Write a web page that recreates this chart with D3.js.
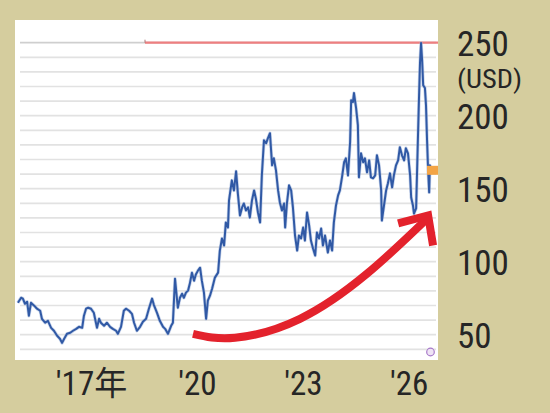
<!DOCTYPE html>
<html><head><meta charset="utf-8">
<script src="https://cdn.jsdelivr.net/npm/d3@7"></script>
<style>body{margin:0;background:#d5cd9e;overflow:hidden}</style>
</head><body>
<svg id="c" width="550" height="413"></svg>
<script>
// ---- data ----
const years = [2014.93,2015.02,2015.07,2015.13,2015.19,2015.24,2015.30,2015.39,2015.47,2015.56,2015.61,2015.70,2015.78,2015.87,2015.95,2016.04,2016.12,2016.18,2016.24,2016.32,2016.41,2016.49,2016.58,2016.66,2016.75,2016.80,2016.86,2016.92,2017.00,2017.08,2017.17,2017.23,2017.28,2017.37,2017.45,2017.54,2017.62,2017.71,2017.76,2017.85,2017.93,2017.99,2018.08,2018.16,2018.22,2018.30,2018.39,2018.47,2018.56,2018.64,2018.73,2018.78,2018.87,2018.95,2019.04,2019.10,2019.18,2019.27,2019.32,2019.38,2019.44,2019.46,2019.52,2019.58,2019.63,2019.69,2019.75,2019.80,2019.86,2019.92,2019.97,2020.03,2020.09,2020.14,2020.20,2020.26,2020.31,2020.37,2020.43,2020.51,2020.60,2020.65,2020.71,2020.77,2020.82,2020.88,2020.91,2020.97,2020.99,2021.05,2021.11,2021.16,2021.22,2021.28,2021.33,2021.39,2021.45,2021.50,2021.56,2021.62,2021.67,2021.73,2021.79,2021.84,2021.90,2021.96,2022.01,2022.07,2022.13,2022.18,2022.24,2022.30,2022.35,2022.41,2022.47,2022.50,2022.55,2022.61,2022.67,2022.72,2022.78,2022.84,2022.89,2022.95,2023.01,2023.06,2023.12,2023.18,2023.23,2023.29,2023.35,2023.40,2023.46,2023.52,2023.57,2023.63,2023.71,2023.77,2023.83,2023.88,2023.94,2024.00,2024.05,2024.11,2024.17,2024.22,2024.28,2024.34,2024.37,2024.42,2024.45,2024.51,2024.56,2024.59,2024.65,2024.71,2024.76,2024.82,2024.88,2024.93,2024.99,2025.05,2025.10,2025.16,2025.22,2025.24,2025.30,2025.36,2025.41,2025.47,2025.53,2025.58,2025.64,2025.70,2025.75,2025.81,2025.87,2025.92,2025.98,2026.04,2026.07,2026.12,2026.15,2026.21,2026.26,2026.29,2026.32,2026.35,2026.38,2026.41,2026.46,2026.49,2026.52,2026.55,2026.58,2026.60,2026.66];
const prices = [71.9,75.3,74.7,71.2,72.6,63.0,71.9,69.9,67.8,66.4,60.9,58.2,59.5,54.7,52.7,49.3,47.2,44.4,47.2,50.6,51.3,52.7,54.0,55.4,54.7,63.0,67.8,68.5,67.8,65.0,54.7,60.9,58.2,56.1,58.2,55.4,54.0,52.7,50.6,55.4,66.4,67.8,66.4,64.3,58.2,52.7,55.4,58.9,60.9,67.8,74.7,70.5,65.0,59.5,55.4,54.0,50.6,56.1,58.2,88.4,73.3,68.5,75.3,78.1,75.3,78.8,80.2,85.0,92.5,87.0,91.2,93.9,95.9,87.0,78.8,60.9,73.3,76.7,81.5,89.1,92.5,107.6,115.9,111.1,126.9,123.4,142.0,152.3,155.7,148.8,161.9,146.8,131.7,137.2,139.9,135.1,137.2,130.3,142.0,148.8,143.3,133.7,126.9,159.1,183.2,181.1,184.5,188.0,166.0,170.8,162.6,148.8,140.6,135.1,139.9,123.4,139.9,152.3,148.8,137.2,117.9,107.6,117.9,115.9,123.4,114.5,133.7,124.8,114.5,109.0,104.2,120.0,115.9,122.7,111.1,117.9,106.3,114.5,107.6,126.9,138.5,145.4,148.8,157.8,168.1,170.8,159.1,181.8,210.6,209.3,215.5,205.2,193.5,157.8,174.2,168.1,170.8,161.2,169.4,157.8,157.1,159.1,172.9,166.0,148.8,128.2,138.5,148.8,153.6,160.5,150.9,159.1,166.0,169.4,178.4,172.9,169.4,177.7,174.2,159.1,144.0,138.5,133.0,136.5,183.2,210.6,236.1,249.8,238.1,220.9,218.9,207.2,183.2,162.6,147.5,166.0,162.6];
const yTicks = [50,100,150,200,250];
const xTicks = [2017,2020,2023,2026];
const xTickLabels = ["'17年","'20","'23","'26"];
const gridValues = d3.range(40, 251, 10);
const highLevel = 250;
const highStartYear = 2018.53;
const arrowYears  = [2019.89,2021.08,2022.92,2024.82,2026.50];
const arrowPrices = [50.6,47.9,60.9,91.8,129.0];
const arrowHeadYears  = [2025.70,2026.55,2026.69];
const arrowHeadPrices = [126.2,131.7,111.1];

// ---- layout ----
const W = 550, H = 413;
const plot = {x0:15, x1:438, y0:20, y1:360};
const svg = d3.select('#c');
svg.append('rect').attr('width',W).attr('height',H).attr('fill','#d5cd9e');
svg.append('rect').attr('x',plot.x0).attr('y',plot.y0)
  .attr('width',plot.x1-plot.x0).attr('height',plot.y1-plot.y0).attr('fill','#ffffff');

const x = d3.scaleLinear().domain([2017,2026]).range([91,408.7]);
const y = d3.scaleLinear().domain([40,250]).range([349.3,42.7]);

const fontStack = "'Liberation Sans Narrow','Roboto Condensed','DejaVu Sans Condensed','Noto Sans CJK JP',sans-serif";

// grid
svg.append('g').selectAll('line').data(gridValues).join('line')
  .attr('x1',20).attr('x2',436)
  .attr('y1',d=>y(d)).attr('y2',d=>y(d))
  .attr('stroke',d=>d===highLevel?'#cfcfcf':'#e2e2e2')
  .attr('stroke-width',1.7);

// high line
svg.append('line')
  .attr('x1',x(highStartYear)).attr('x2',plot.x1)
  .attr('y1',y(highLevel)).attr('y2',y(highLevel))
  .attr('stroke','#ee7f80').attr('stroke-width',2.2);
svg.append('line')
  .attr('x1',x(highStartYear)).attr('x2',x(highStartYear))
  .attr('y1',y(highLevel)-3).attr('y2',y(highLevel))
  .attr('stroke','#aa7777').attr('stroke-width',1);

// price line
const pts = years.map((d,i)=>[d,prices[i]]);
const lineGen = d3.line().x(d=>x(d[0])).y(d=>y(d[1]));
svg.append('path').datum(pts)
  .attr('fill','none').attr('stroke','#9fb4da').attr('stroke-width',3.4).attr('stroke-opacity',0.55)
  .attr('stroke-linejoin','round').attr('d',lineGen);
svg.append('path').datum(pts)
  .attr('fill','none').attr('stroke','#3059a5').attr('stroke-width',2)
  .attr('stroke-linejoin','round').attr('d',lineGen);

// last value tag
const last = pts[pts.length-1];
svg.append('rect').attr('x',plot.x1-11).attr('y',y(last[1])-4.5)
  .attr('width',11).attr('height',9).attr('fill','#f3a445');

// arrow
const apts = arrowYears.map((d,i)=>[d,arrowPrices[i]]);
svg.append('path').datum(apts)
  .attr('fill','none').attr('stroke','#e3222c').attr('stroke-width',8)
  .attr('d',d3.line().curve(d3.curveNatural).x(d=>x(d[0])).y(d=>y(d[1])));
const hpts = arrowHeadYears.map((d,i)=>[d,arrowHeadPrices[i]]);
svg.append('path').datum(hpts)
  .attr('fill','none').attr('stroke','#e3222c').attr('stroke-width',8)
  .attr('stroke-linejoin','miter')
  .attr('d',d3.line().x(d=>x(d[0])).y(d=>y(d[1])));

// logo circle
svg.append('circle').attr('cx',430.5).attr('cy',352).attr('r',3.8)
  .attr('fill','#efe4f5').attr('stroke','#a779c9').attr('stroke-width',1.2);

// right axis labels
const yAxis = d3.axisRight(y).tickValues(yTicks).tickSize(0).tickPadding(0);
const gy = svg.append('g').attr('transform','translate(457,0)').call(yAxis);
gy.select('.domain').remove();
gy.selectAll('text').attr('font-family',fontStack).attr('font-size',35)
  .attr('fill','#262626').attr('dy','0.36em');
svg.append('text').attr('x',457).attr('y',88).text('(USD)')
  .attr('font-family',fontStack).attr('font-size',26).attr('fill','#262626')
  .attr('textLength',65).attr('lengthAdjust','spacingAndGlyphs');

// bottom axis labels
const xAxis = d3.axisBottom(x).tickValues(xTicks).tickSize(0).tickPadding(0)
  .tickFormat((d,i)=>xTickLabels[i]);
const gx = svg.append('g').attr('transform','translate(0,395)').call(xAxis);
gx.select('.domain').remove();
gx.selectAll('text').attr('font-family',fontStack).attr('font-size',33)
  .attr('fill','#262626').attr('dy',0);
</script>
</body></html>
